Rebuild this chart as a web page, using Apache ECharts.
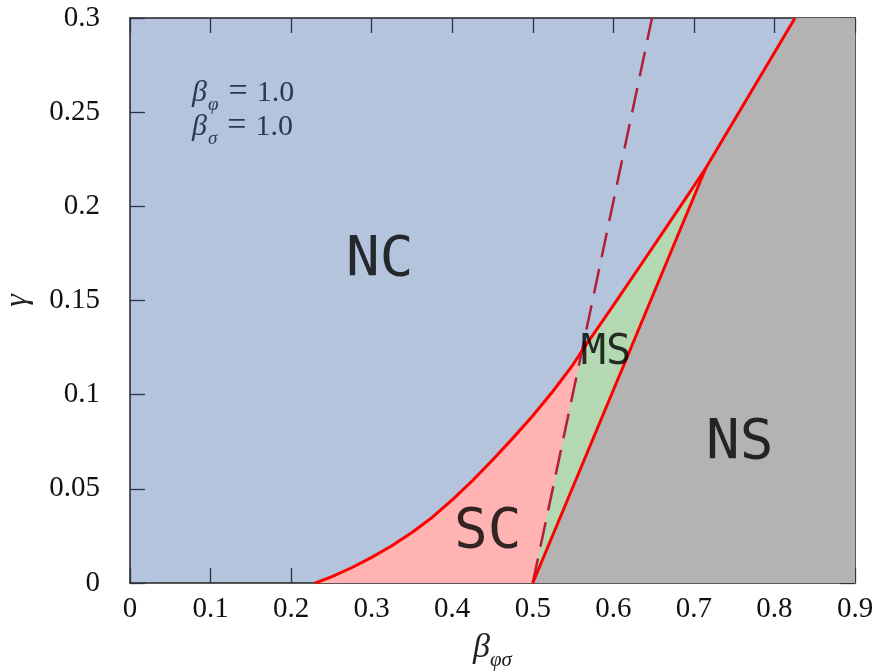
<!DOCTYPE html>
<html lang="en">
<head>
    <meta charset="UTF-8">
    <title>phase diagram</title>
    <style>
        html, body { margin: 0; padding: 0; background: #fff; }
    </style>
</head>
<body>

    <div id="echarts" style="width: 876px; height: 672px"></div>
    <script src="https://cdn.jsdelivr.net/npm/echarts@6/dist/echarts.min.js"></script>
    <script>
        // boundary NC / (SC, MS, NS)
        const upperBeta  = [0.23, 0.25, 0.275, 0.30, 0.325, 0.35, 0.375, 0.40, 0.425, 0.45, 0.475, 0.50, 0.525, 0.55, 0.561, 0.60, 0.633, 0.665, 0.695, 0.715, 0.77, 0.8255];
        const upperGamma = [0, 0.0033, 0.0081, 0.0136, 0.0198, 0.0268, 0.0348, 0.0441, 0.0543, 0.0653, 0.0768, 0.0888, 0.1018, 0.116, 0.1232, 0.1474, 0.1682, 0.1884, 0.2075, 0.2205, 0.2601, 0.3];
        // boundary MS / NS
        const nsBeta  = [0.5, 0.612, 0.715];
        const nsGamma = [0, 0.1147, 0.2205];
        // dashed line SC / MS
        const dashBeta  = [0.5, 0.561, 0.648];
        const dashGamma = [0, 0.1232, 0.3];
        // region labels
        const regionNames = ['NC', 'SC', 'MS', 'NS'];
        const regionBeta  = [0.31, 0.444, 0.591, 0.757];
        const regionGamma = [0.171, 0.027, 0.122, 0.074];

        const xTicks = [0, 0.1, 0.2, 0.3, 0.4, 0.5, 0.6, 0.7, 0.8, 0.9];
        const yTicks = [0, 0.05, 0.1, 0.15, 0.2, 0.25, 0.3];

        const zip = (a, b) => a.map((v, i) => [v, b[i]]);
        const upper = zip(upperBeta, upperGamma);
        const nsLine = zip(nsBeta, nsGamma);
        const dashLine = zip(dashBeta, dashGamma);

        // green region: right of the dashed line, under the upper curve
        const msTop = [dashLine[0]].concat(upper.filter(p => p[0] >= dashBeta[1] && p[0] <= nsBeta[nsBeta.length - 1]));
        // grey region: under the MS/NS line and the top of the upper curve
        const nsTop = nsLine.concat(upper.filter(p => p[0] > nsBeta[nsBeta.length - 1])).concat([[xTicks[xTicks.length - 1], 0.3]]);

        const serif = 'Liberation Serif';
        const tickColor = '#2b3442';
        const noteColor = '#2a3850';

        const area = (data, color, z) => ({
            type: 'line', data: data, symbol: 'none', silent: true, z: z,
            lineStyle: { width: 0 },
            areaStyle: { color: color, opacity: 1, origin: 'start' }
        });

        const xBase = {
            type: 'value', min: 0, max: 0.9, interval: 0.1,
            axisLine: { show: true, onZero: false, lineStyle: { color: '#222', width: 1.5 } },
            axisTick: { show: true, inside: true, length: 15, lineStyle: { color: tickColor, width: 1.3 } },
            splitLine: { show: false }
        };
        const yBase = {
            type: 'value', min: 0, max: 0.3, interval: 0.05,
            axisLine: { show: true, onZero: false, lineStyle: { color: '#222', width: 1.5 } },
            axisTick: { show: true, inside: true, length: 15, lineStyle: { color: tickColor, width: 1.3 } },
            splitLine: { show: false }
        };

        const note = {
            b: { fontFamily: serif, fontStyle: 'italic', fontWeight: 'normal', fontSize: 30, color: noteColor, lineHeight: 34, verticalAlign: 'bottom', padding: [0, 0, 6, 0] },
            s: { fontFamily: serif, fontStyle: 'italic', fontWeight: 'normal', fontSize: 19, color: noteColor, lineHeight: 34, verticalAlign: 'bottom', padding: [0, 0, 0, 1] },
            e: { fontFamily: serif, fontWeight: 'normal', fontSize: 34, color: noteColor, lineHeight: 34, verticalAlign: 'bottom', padding: [0, 9, 5, 10] },
            t: { fontFamily: serif, fontWeight: 'normal', fontSize: 30, color: noteColor, lineHeight: 34, verticalAlign: 'bottom', padding: [0, 0, 6, 0] }
        };

        const option = {
            animation: false,
            title: {
                left: 187, top: 75,
                text: '{b|β}{s|φ}{e|=}{t|1.0}\n{b|β}{s|σ}{e|=}{t|1.0}',
                textStyle: { fontWeight: 'normal', rich: note }
            },
            grid: {
                left: 130, right: 21, top: 18, bottom: 89,
                outerBoundsMode: 'none', containLabel: false,
                show: true, backgroundColor: '#b4c4dd', borderWidth: 0
            },
            xAxis: [
                Object.assign({}, xBase, {
                    position: 'bottom',
                    name: '{b|β}{s|φσ}', nameLocation: 'middle', nameGap: 48,
                    nameTextStyle: {
                        rich: {
                            b: { fontFamily: serif, fontStyle: 'italic', fontSize: 34, color: '#222', verticalAlign: 'bottom', padding: [0, 0, 6, 0] },
                            s: { fontFamily: serif, fontStyle: 'italic', fontSize: 21, color: '#222', verticalAlign: 'bottom' }
                        }
                    },
                    axisLabel: {
                        margin: 12, fontFamily: serif, fontSize: 29, color: '#111',
                        formatter: v => String(xTicks[Math.round(v * 10)])
                    }
                }),
                Object.assign({}, xBase, { position: 'top', axisLabel: { show: false } })
            ],
            yAxis: [
                Object.assign({}, yBase, {
                    position: 'left',
                    name: 'γ', nameLocation: 'middle', nameGap: 96, nameRotate: 90,
                    nameTextStyle: { fontFamily: serif, fontStyle: 'italic', fontSize: 32, color: '#222' },
                    axisLabel: {
                        margin: 30, fontFamily: serif, fontSize: 29, color: '#111',
                        formatter: v => String(yTicks[Math.round(v * 20)])
                    }
                }),
                Object.assign({}, yBase, { position: 'right', axisLabel: { show: false } })
            ],
            series: [
                area(upper, '#ffb3b3', 1),
                area(msTop, '#b4d8b2', 2),
                area(nsTop, '#b3b3b3', 3),
                {
                    type: 'line', data: dashLine, symbol: 'none', silent: true, z: 4,
                    lineStyle: { color: '#b41e3c', width: 2.5, type: [25, 12] }
                },
                {
                    type: 'line', data: upper, symbol: 'none', silent: true, z: 5,
                    lineStyle: { color: '#ff0000', width: 3, join: 'round' }
                },
                {
                    type: 'line', data: nsLine, symbol: 'none', silent: true, z: 5,
                    lineStyle: { color: '#ff0000', width: 3, join: 'round' }
                },
                {
                    type: 'scatter', silent: true, z: 6, symbolSize: 0,
                    data: regionNames.map((n, i) => ({
                        value: [regionBeta[i], regionGamma[i]],
                        name: n,
                        label: { fontSize: n === 'MS' ? 42 : 56 }
                    })),
                    label: {
                        show: true, position: 'inside', formatter: p => p.name,
                        fontFamily: 'DejaVu Sans Mono', color: '#000'
                    }
                }
            ]
        };

        var chartDom = document.getElementById("echarts");
        var myChart = echarts.init(chartDom);
        myChart.setOption(option);
    </script>
</body>
</html>
